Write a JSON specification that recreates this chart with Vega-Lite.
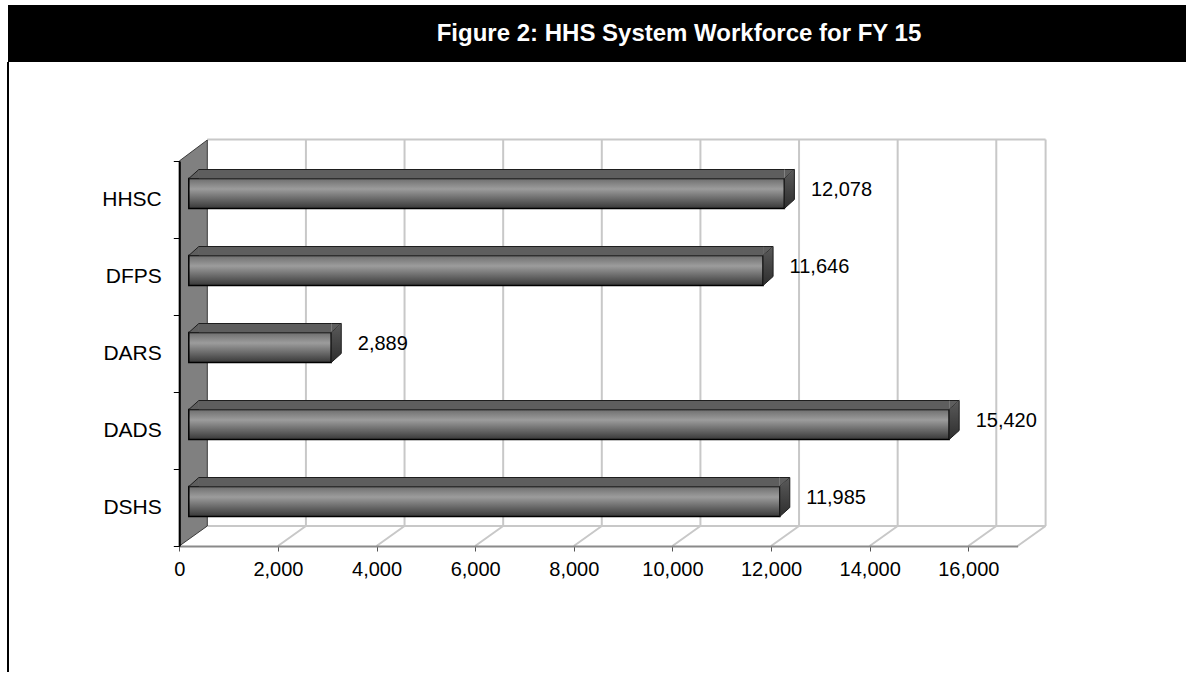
{
  "$schema": "https://vega.github.io/schema/vega-lite/v6.json",
  "padding": {"left": 7, "top": 5, "right": 0, "bottom": 0},
  "background": "white",
  "spacing": 0,
  "bounds": "flush",
  "config": {"view": {"stroke": null}, "font": "Liberation Sans", "concat": {"spacing": 0}},
  "datasets": {
    "bars": [
      {"cat": "HHSC", "v": 12078},
      {"cat": "DFPS", "v": 11646},
      {"cat": "DARS", "v": 2889},
      {"cat": "DADS", "v": 15420},
      {"cat": "DSHS", "v": 11985}
    ],
    "grid": [
      {"g": 2000}, {"g": 4000}, {"g": 6000}, {"g": 8000}, {"g": 10000},
      {"g": 12000}, {"g": 14000}, {"g": 16000}, {"g": 17000}
    ],
    "one": [{"item": "wall"}],
    "heading": [{"title": "Figure 2: HHS System Workforce for FY 15"}]
  },
  "vconcat": [
    {
      "width": 1178,
      "height": 57,
      "view": {"fill": "black", "stroke": null},
      "data": {"name": "heading"},
      "mark": {"type": "text", "color": "white", "font": "Liberation Sans", "fontSize": 24, "fontWeight": "bold", "dx": 82, "baseline": "middle", "align": "center"},
      "encoding": {"text": {"field": "title", "type": "nominal"}}
    },
    {
      "width": 1178,
      "height": 610,
      "view": {"stroke": "black", "strokeWidth": 2, "strokeDash": [0, 2966, 620]},
      "layer": [
        {
          "data": {"name": "grid"},
          "mark": {"type": "rule", "color": "#c8c8c8", "strokeWidth": 2, "xOffset": 28, "yOffset": -60, "y2Offset": 18.5},
          "encoding": {
            "x": {
              "field": "g", "type": "quantitative", "title": null,
              "scale": {"domain": [0, 17000], "range": [171.3, 1009.6], "nice": false, "zero": true},
              "axis": {
                "title": null, "values": [0, 2000, 4000, 6000, 8000, 10000, 12000, 14000, 16000],
                "labelExpr": "format(datum.value, ',')", "grid": false, "offset": -126, "zindex": 1,
                "domainColor": "#8a8a8a", "domainWidth": 2, "tickColor": "#555555", "tickSize": 5, "tickWidth": 1,
                "labelFont": "Liberation Sans", "labelFontSize": 20, "labelColor": "black", "labelPadding": 8, "labelFlush": false
              }
            },
            "y": {
              "datum": "HHSC", "type": "nominal",
              "scale": {"type": "band", "domain": ["HHSC", "DFPS", "DARS", "DADS", "DSHS"], "range": [99, 484], "paddingInner": 0, "paddingOuter": 0},
              "axis": {
                "title": null, "offset": -171.3, "zindex": 1, "tickBand": "extent",
                "domainColor": "black", "domainWidth": 2, "tickColor": "black", "tickSize": 6, "tickWidth": 1,
                "labelFont": "Liberation Sans", "labelFontSize": 21, "labelColor": "black", "labelPadding": 12
              }
            },
            "y2": {"datum": "DSHS"}
          }
        },
        {
          "data": {"name": "one"},
          "mark": {"type": "rule", "color": "#c8c8c8", "strokeWidth": 2, "xOffset": 28, "x2Offset": 28, "yOffset": -60},
          "encoding": {
            "x": {"datum": 0, "type": "quantitative"},
            "x2": {"datum": 17000},
            "y": {"datum": "HHSC", "type": "nominal"}
          }
        },
        {
          "data": {"name": "one"},
          "mark": {"type": "rule", "color": "#c8c8c8", "strokeWidth": 2, "xOffset": 28, "x2Offset": 28, "yOffset": 18.5},
          "encoding": {
            "x": {"datum": 0, "type": "quantitative"},
            "x2": {"datum": 17000},
            "y": {"datum": "DSHS", "type": "nominal"}
          }
        },
        {
          "data": {"name": "grid"},
          "mark": {"type": "rule", "color": "#c8c8c8", "strokeWidth": 2, "x2Offset": 28, "yOffset": 38.5, "y2Offset": 18.5},
          "encoding": {
            "x": {"field": "g", "type": "quantitative", "title": null},
            "x2": {"field": "g"},
            "y": {"datum": "DSHS", "type": "nominal"},
            "y2": {"datum": "DSHS"}
          }
        },
        {
          "data": {"name": "one"},
          "mark": {"type": "point", "shape": "M0,-192.5L28,-213.5L28,172.5L0,192.5Z", "size": 4, "filled": true, "fill": "#808080", "fillOpacity": 1, "opacity": 1, "stroke": "#3a3a3a", "strokeWidth": 1},
          "encoding": {
            "x": {"datum": 0, "type": "quantitative"},
            "y": {"datum": "DARS", "type": "nominal"}
          }
        },
        {
          "data": {"name": "bars"},
          "mark": {
            "type": "bar", "height": 30, "yOffset": -6, "xOffset": 9.5, "x2Offset": 9.5,
            "fill": {"gradient": "linear", "x1": 0, "y1": 0, "x2": 0, "y2": 1, "stops": [
              {"offset": 0, "color": "#6e6e6e"}, {"offset": 0.35, "color": "#9c9c9c"}, {"offset": 1, "color": "#383838"}]},
            "stroke": "black", "strokeWidth": 1.5
          },
          "encoding": {
            "x": {"field": "v", "type": "quantitative", "title": null},
            "x2": {"datum": 0},
            "y": {"field": "cat", "type": "nominal", "title": null}
          }
        },
        {
          "data": {"name": "bars"},
          "mark": {"type": "bar", "height": 9, "yOffset": -25.5, "xOffset": 9.5, "x2Offset": 19.5, "fill": "#5e5e5e", "stroke": null},
          "encoding": {
            "x": {"field": "v", "type": "quantitative", "title": null},
            "x2": {"datum": 0},
            "y": {"field": "cat", "type": "nominal", "title": null}
          }
        },
        {
          "data": {"name": "bars"},
          "mark": {"type": "rule", "color": "#1e1e1e", "strokeWidth": 1, "yOffset": -30, "xOffset": 9.5, "x2Offset": 19.5},
          "encoding": {
            "x": {"field": "v", "type": "quantitative", "title": null},
            "x2": {"datum": 0},
            "y": {"field": "cat", "type": "nominal", "title": null}
          }
        },
        {
          "data": {"name": "bars"},
          "mark": {"type": "point", "shape": "M19.5,-21L9.5,-21L19.5,-30", "size": 4, "filled": true, "fill": "#5e5e5e", "opacity": 1, "stroke": "#1e1e1e", "strokeWidth": 1},
          "encoding": {
            "x": {"datum": 0, "type": "quantitative"},
            "y": {"field": "cat", "type": "nominal", "title": null}
          }
        },
        {
          "data": {"name": "bars"},
          "mark": {"type": "point", "shape": "M9.5,-30L19.5,-30L9.5,-21", "size": 4, "filled": true, "fill": "#5e5e5e", "opacity": 1, "stroke": "#1e1e1e", "strokeWidth": 1},
          "encoding": {
            "x": {"field": "v", "type": "quantitative", "title": null},
            "y": {"field": "cat", "type": "nominal", "title": null}
          }
        },
        {
          "data": {"name": "bars"},
          "mark": {
            "type": "point", "shape": "M19.5,-30L19.5,0L9.5,9L9.5,-21", "size": 4, "filled": true, "opacity": 1,
            "fill": {"gradient": "linear", "x1": 0, "y1": 0, "x2": 0, "y2": 1, "stops": [
              {"offset": 0, "color": "#5a5a5a"}, {"offset": 1, "color": "#2e2e2e"}]},
            "stroke": "#1e1e1e", "strokeWidth": 1
          },
          "encoding": {
            "x": {"field": "v", "type": "quantitative", "title": null},
            "y": {"field": "cat", "type": "nominal", "title": null}
          }
        },
        {
          "data": {"name": "bars"},
          "mark": {"type": "text", "align": "left", "baseline": "middle", "dx": 36, "dy": -10, "font": "Liberation Sans", "fontSize": 20, "color": "black"},
          "encoding": {
            "x": {"field": "v", "type": "quantitative", "title": null},
            "y": {"field": "cat", "type": "nominal", "title": null},
            "text": {"field": "v", "type": "quantitative", "format": ","}
          }
        }
      ]
    }
  ]
}
